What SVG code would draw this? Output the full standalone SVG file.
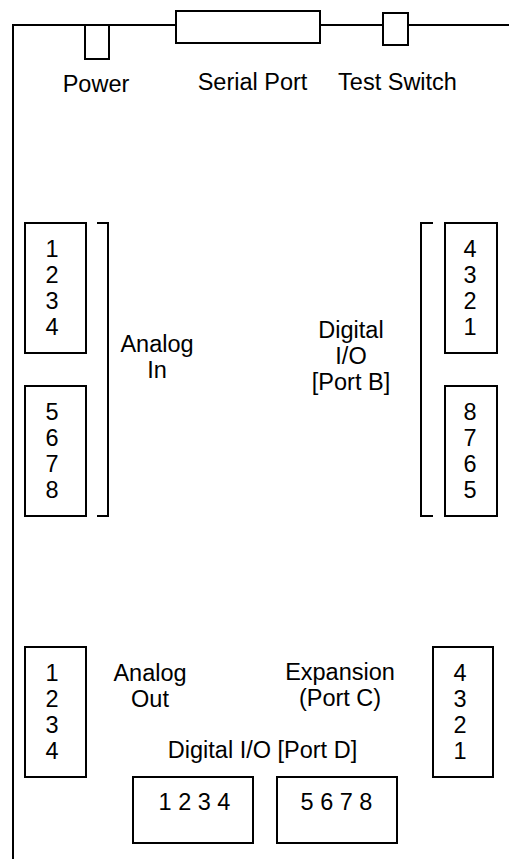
<svg xmlns="http://www.w3.org/2000/svg" width="509" height="859" viewBox="0 0 509 859">
<style>
.ln{fill:none;stroke:#000;stroke-width:2}
.bx{fill:#fff;stroke:#000;stroke-width:2}
text{font-family:"Liberation Sans",Arial,sans-serif;font-size:23.5px;fill:#000;text-anchor:middle}
</style>
<rect width="509" height="859" fill="#fff"/>
<g id="connectors">
<path class="ln" d="M13,859 V25 H509"/>
<path id="bracket-analog-in" class="ln" d="M97,223 H108 V516 H97"/>
<path id="bracket-port-b" class="ln" d="M433,223 H421 V516 H433"/>
</g>
<g id="power"><rect class="bx" x="85" y="25" width="24" height="34"/><text x="96" y="92">Power</text></g>
<g id="serial-port"><rect class="bx" x="176" y="11" width="144" height="32"/><text x="252.5" y="90">Serial Port</text></g>
<g id="test-switch"><rect class="bx" x="383" y="13" width="25" height="32"/><text x="397.5" y="90">Test Switch</text></g>
<g id="analog-in-1"><rect class="bx" x="25" y="223" width="61" height="130"/>
<text x="52" y="257">1</text><text x="52" y="283">2</text><text x="52" y="309">3</text><text x="52" y="335">4</text></g>
<g id="analog-in-2"><rect class="bx" x="25" y="386" width="61" height="130"/>
<text x="52" y="420">5</text><text x="52" y="446">6</text><text x="52" y="472">7</text><text x="52" y="498">8</text></g>
<g id="analog-in-label"><text x="157" y="352">Analog</text><text x="157" y="378">In</text></g>
<g id="port-b-1"><rect class="bx" x="445" y="223" width="52" height="130"/>
<text x="470" y="257">4</text><text x="470" y="283">3</text><text x="470" y="309">2</text><text x="470" y="335">1</text></g>
<g id="port-b-2"><rect class="bx" x="445" y="386" width="52" height="130"/>
<text x="470" y="420">8</text><text x="470" y="446">7</text><text x="470" y="472">6</text><text x="470" y="498">5</text></g>
<g id="port-b-label"><text x="351" y="338">Digital</text><text x="351" y="364">I/O</text><text x="351" y="390">[Port B]</text></g>
<g id="analog-out"><rect class="bx" x="25" y="647" width="61" height="130"/>
<text x="52" y="681">1</text><text x="52" y="707">2</text><text x="52" y="733">3</text><text x="52" y="759">4</text></g>
<g id="analog-out-label"><text x="150" y="681">Analog</text><text x="150" y="707">Out</text></g>
<g id="port-c-label"><text x="340" y="680">Expansion</text><text x="340" y="706">(Port C)</text></g>
<g id="port-c"><rect class="bx" x="433" y="647" width="60" height="130"/>
<text x="460" y="681">4</text><text x="460" y="707">3</text><text x="460" y="733">2</text><text x="460" y="759">1</text></g>
<g id="port-d-label"><text x="262.5" y="758">Digital I/O [Port D]</text></g>
<g id="port-d-1"><rect class="bx" x="133" y="777" width="120" height="66"/><text x="194.5" y="810">1 2 3 4</text></g>
<g id="port-d-2"><rect class="bx" x="277" y="777" width="120" height="66"/><text x="336.5" y="810">5 6 7 8</text></g>
</svg>
